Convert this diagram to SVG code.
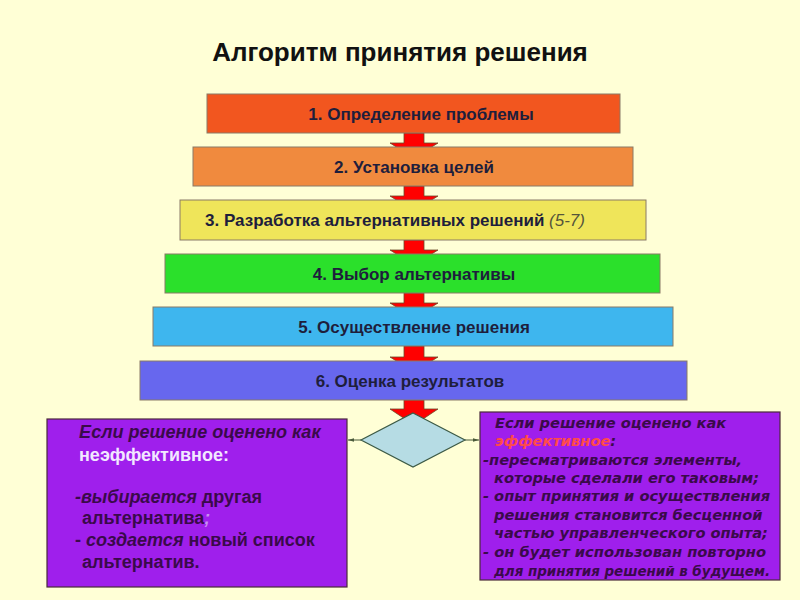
<svg xmlns="http://www.w3.org/2000/svg" width="800" height="600" viewBox="0 0 800 600">
<style>
.bg{fill:#FFFFD6}
.step{stroke:#8a7a66;stroke-width:1}
.st{font-family:"Liberation Sans",Arial,sans-serif;font-weight:bold;font-size:17px;fill:#1E1E3C;text-anchor:middle}
.title{font-family:"Liberation Sans",Arial,sans-serif;font-weight:bold;font-size:26px;fill:#111;text-anchor:middle}
.arr{fill:#FF0000;stroke:#6a4a2a;stroke-width:0.8}
.purple{fill:#9F1FEC;stroke:#4a2a3a;stroke-width:1.2}
.lt{font-family:"Liberation Sans",Arial,sans-serif;font-weight:bold;font-size:18px;fill:#3A0A4A}
.lt.light{fill:#F2E8FF}
.rt{font-family:"DejaVu Sans","Liberation Sans",sans-serif;font-weight:bold;font-style:italic;font-size:14.6px;fill:#3A0A4A}
.conn{stroke:#4a5a3a;stroke-width:1;fill:none}
</style>
<defs>
<marker id="ah" viewBox="0 0 10 10" refX="10" refY="5" markerWidth="6" markerHeight="6" orient="auto">
<path d="M0,2 L10,5 L0,8 z" fill="#4a5a3a"/>
</marker>
</defs>
<rect class="bg" x="0" y="0" width="800" height="600"/>
<text class="title" x="400" y="61">Алгоритм принятия решения</text>

<g id="connectors">
<polygon class="arr" points="404,133 424,133 424,143 438,143 414,158 390,143 404,143"/>
<polygon class="arr" points="404,186 424,186 424,196 438,196 414,211 390,196 404,196"/>
<polygon class="arr" points="404,240 424,240 424,250 438,250 414,265 390,250 404,250"/>
<polygon class="arr" points="404,293 424,293 424,303 438,303 414,318 390,303 404,303"/>
<polygon class="arr" points="404,346 424,346 424,357 438,357 414,372 390,357 404,357"/>
<polygon class="arr" points="404,400 424,400 424,409 438,409 414,425 390,409 404,409"/>
<line class="conn" x1="361" y1="440" x2="348" y2="440" marker-end="url(#ah)"/>
<line class="conn" x1="465" y1="440" x2="479" y2="440" marker-end="url(#ah)"/>
</g>

<g id="step1"><rect class="step" x="207" y="94" width="413" height="39" fill="#F2561F"/><text class="st" x="421" y="120">1. Определение проблемы</text></g>
<g id="step2"><rect class="step" x="193" y="147" width="440" height="39" fill="#F08A3E"/><text class="st" x="414" y="173">2. Установка целей</text></g>
<g id="step3"><rect class="step" x="180" y="200" width="466" height="40" fill="#EFE55A"/><text class="st" x="395" y="226">3. Разработка альтернативных решений <tspan font-weight="normal" font-style="italic" fill="#55553a">(5-7)</tspan></text></g>
<g id="step4"><rect class="step" x="165" y="254" width="495" height="39" fill="#2BE02B"/><text class="st" x="414" y="280">4. Выбор альтернативы</text></g>
<g id="step5"><rect class="step" x="153" y="307" width="520" height="39" fill="#3EB6EE"/><text class="st" x="414" y="333">5. Осуществление решения</text></g>
<g id="step6"><rect class="step" x="140" y="361" width="547" height="39" fill="#6767EE"/><text class="st" x="410" y="387">6. Оценка результатов</text></g>

<g id="decision"><polygon points="413,413 465,440 413,467 361,440" fill="#B6DCE4" stroke="#3c5a46" stroke-width="1.2"/></g>

<g id="left-box">
<rect class="purple" x="47" y="419" width="300" height="168"/>
<text class="lt" x="79" y="438" font-style="italic">Если решение оценено как</text>
<text class="lt light" x="79" y="461">неэффективное:</text>
<text class="lt" x="75" y="503"><tspan font-style="italic">-выбирается</tspan> другая</text>
<text class="lt" x="82" y="524">альтернатива<tspan font-style="italic" fill="#C890F0">;</tspan></text>
<text class="lt" x="75" y="546">- <tspan font-style="italic">создается</tspan> новый список</text>
<text class="lt" x="82" y="568">альтернатив.</text>
</g>

<g id="right-box">
<rect class="purple" x="480" y="412" width="300" height="168"/>
<text class="rt" x="495" y="428">Если решение оценено как</text>
<text class="rt" x="495" y="446"><tspan fill="#FF4A4A">эффективное</tspan>:</text>
<text class="rt" x="483" y="465">-пересматриваются элементы,</text>
<text class="rt" x="494" y="483">которые сделали его таковым;</text>
<text class="rt" x="483" y="501" textLength="287" lengthAdjust="spacingAndGlyphs">- опыт принятия и осуществления</text>
<text class="rt" x="494" y="520">решения становится бесценной</text>
<text class="rt" x="494" y="538">частью управленческого опыта;</text>
<text class="rt" x="483" y="557" textLength="283" lengthAdjust="spacingAndGlyphs">- он будет использован повторно</text>
<text class="rt" x="494" y="576" textLength="276" lengthAdjust="spacingAndGlyphs">для принятия решений в будущем.</text>
</g>
</svg>
